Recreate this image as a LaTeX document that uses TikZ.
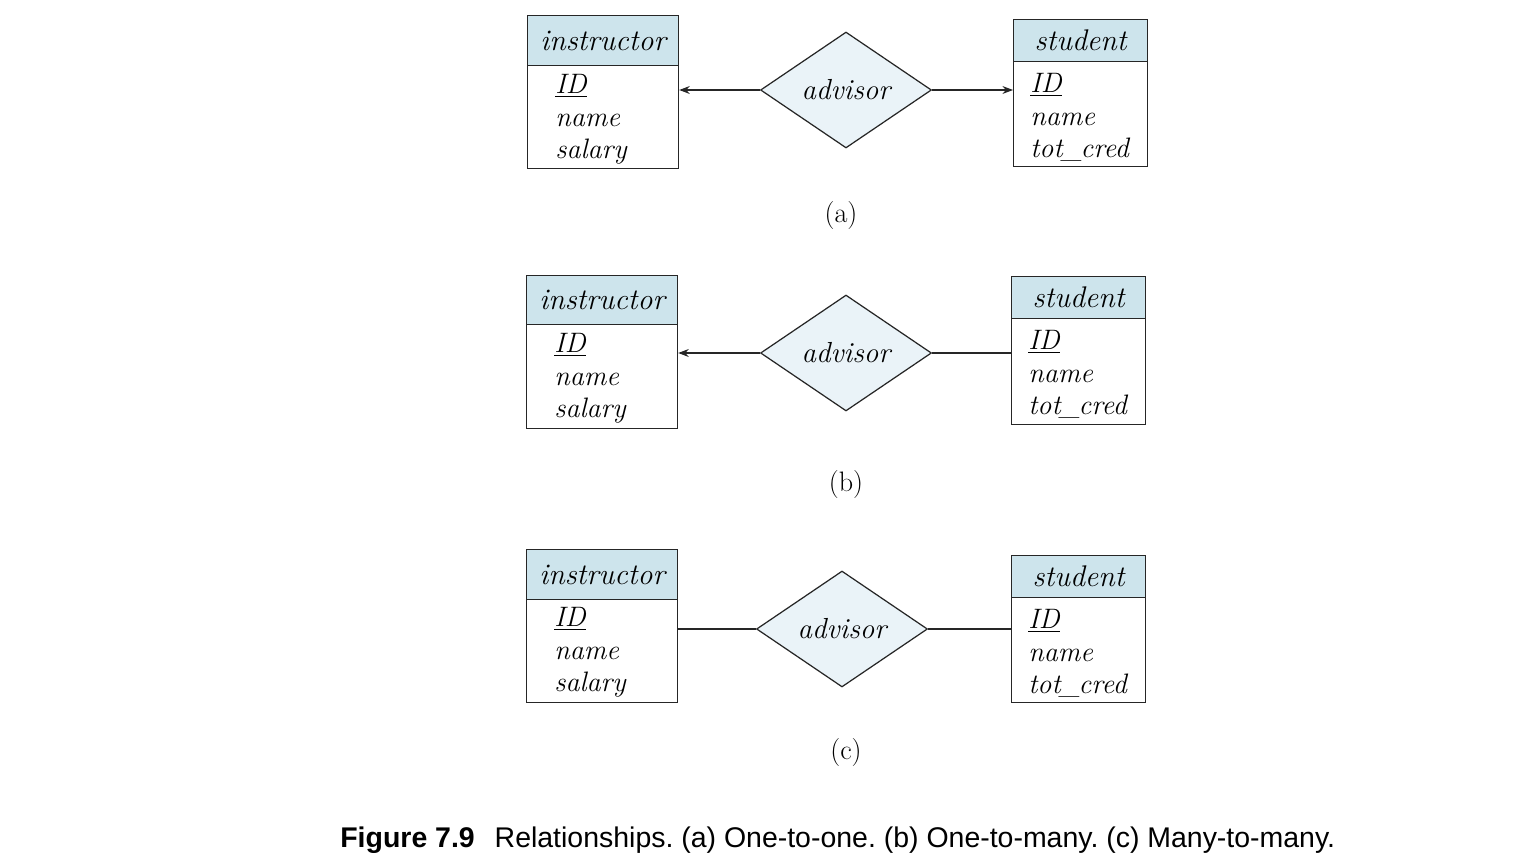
\documentclass[tikz,border=0pt]{standalone}
\usepackage{fontspec}
\newfontfamily\capfont{Liberation Sans}
\usepackage{xcolor}
\usepackage{tikz}
\usetikzlibrary{arrows.meta,positioning,shapes.geometric}

\definecolor{hdrblue}{RGB}{205,228,236}
\definecolor{relblue}{RGB}{234,243,248}

\begin{document}
\begin{tikzpicture}[
    x=0.02cm, y=-0.02cm,
    hdr/.style={rectangle, draw=black!85, fill=hdrblue, line width=0.7pt,
                anchor=north west, inner sep=0pt,
                font=\fontsize{17}{19}\selectfont\itshape},
    attrbox/.style={rectangle, draw=black!85, fill=white, line width=0.7pt,
                    anchor=north west, inner sep=0pt},
    attrs/.style={anchor=north west, inner sep=0pt, align=left,
                  font=\fontsize{16}{18.5}\selectfont\itshape},
    rel/.style={diamond, draw=black!85, fill=relblue, line width=0.7pt,
                aspect=1.5, inner sep=1pt, minimum width=3.42cm,
                minimum height=2.32cm, font=\fontsize{16.5}{19}\selectfont\itshape},
    arrow/.style={-{Stealth[length=6pt,width=4.5pt]}, line width=0.7pt, black!85},
    link/.style={line width=0.7pt, black!85},
    sublabel/.style={font=\fontsize{16}{19}\selectfont}
]
    \useasboundingbox (0,0) rectangle (1532,868);

    % (a) one-to-one
    \node[hdr, minimum width=3.02cm, minimum height=1.0cm]  (ih1) at (527,15) {instructor};
    \node[attrbox, minimum width=3.02cm, minimum height=2.06cm] (ib1) at (527,65) {};
    \node[attrs] (ia1) at (555,74) {\underline{ID}\\name\\salary};
    \node[hdr, minimum width=2.68cm, minimum height=0.84cm] (sh1) at (1013,19) {student};
    \node[attrbox, minimum width=2.68cm, minimum height=2.1cm] (sb1) at (1013,61) {};
    \node[attrs] (sa1) at (1030,73) {\underline{ID}\\name\\tot\kern-0.6pt\_\kern-0.8pt cred};
    \node[rel] (adv1) at (846,90) {advisor};
    \node[sublabel] (lbla) at (841,215) {(a)};

    \draw[arrow] (adv1.west) -- (adv1.west -| ib1.east);
    \draw[arrow] (adv1.east) -- (adv1.east -| sb1.west);

    % (b) one-to-many
    \node[hdr, minimum width=3.02cm, minimum height=0.98cm] (ih2) at (526,275) {instructor};
    \node[attrbox, minimum width=3.02cm, minimum height=2.08cm] (ib2) at (526,324) {};
    \node[attrs] (ia2) at (554,333) {\underline{ID}\\name\\salary};
    \node[hdr, minimum width=2.68cm, minimum height=0.84cm] (sh2) at (1011,276) {student};
    \node[attrbox, minimum width=2.68cm, minimum height=2.12cm] (sb2) at (1011,318) {};
    \node[attrs] (sa2) at (1028,330) {\underline{ID}\\name\\tot\kern-0.6pt\_\kern-0.8pt cred};
    \node[rel] (adv2) at (846,353) {advisor};
    \node[sublabel] (lblb) at (846,484) {(b)};

    \draw[arrow] (adv2.west) -- (adv2.west -| ib2.east);
    \draw[link]  (adv2.east) -- (adv2.east -| sb2.west);

    % (c) many-to-many
    \node[hdr, minimum width=3.02cm, minimum height=1.0cm]  (ih3) at (526,549) {instructor};
    \node[attrbox, minimum width=3.02cm, minimum height=2.06cm] (ib3) at (526,599) {};
    \node[attrs] (ia3) at (554,607) {\underline{ID}\\name\\salary};
    \node[hdr, minimum width=2.68cm, minimum height=0.84cm] (sh3) at (1011,555) {student};
    \node[attrbox, minimum width=2.68cm, minimum height=2.1cm] (sb3) at (1011,597) {};
    \node[attrs] (sa3) at (1028,609) {\underline{ID}\\name\\tot\kern-0.6pt\_\kern-0.8pt cred};
    \node[rel] (adv3) at (842,629) {advisor};
    \node[sublabel] (lblc) at (846,752) {(c)};

    \draw[link] (adv3.west) -- (adv3.west -| ib3.east);
    \draw[link] (adv3.east) -- (adv3.east -| sb3.west);

    % caption
    \node[anchor=west, inner sep=0pt, font=\capfont\fontsize{16.2}{19}\selectfont\frenchspacing] (cap) at (340,840)
        {\textbf{Figure 7.9}\hspace{0.7em}Relationships. (a) One-to-one. (b) One-to-many. (c) Many-to-many.};
\end{tikzpicture}
\end{document}
